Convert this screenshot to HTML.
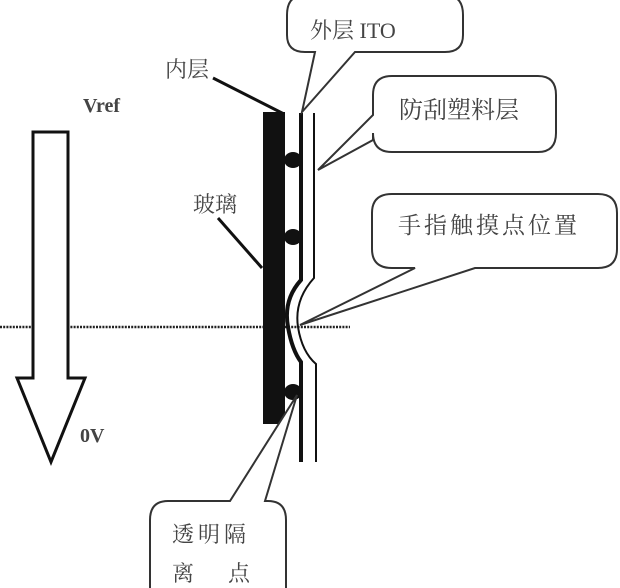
<!DOCTYPE html>
<html><head><meta charset="utf-8"><style>
html,body{margin:0;padding:0;background:#fff;width:620px;height:588px;overflow:hidden}
svg text{font-family:"Liberation Serif","Noto Serif CJK SC",serif;fill:#444}
</style></head><body>
<svg width="620" height="588" viewBox="0 0 620 588" xmlns="http://www.w3.org/2000/svg">
<line x1="0" y1="327" x2="350" y2="327" stroke="#222" stroke-width="2.5" stroke-dasharray="2,1.2"/>
<path d="M33,132 H68 V378 H85 L51,462 L17,378 H33 Z" fill="#fff" stroke="#111" stroke-width="3" stroke-linejoin="miter"/>
<text x="83" y="112" font-size="20" font-weight="bold">Vref</text>
<text x="80" y="442" font-size="20" font-weight="bold">0V</text>
<rect x="263" y="112" width="22" height="312" fill="#111"/>
<path d="M301,113 V280 Q283,300 288,327 Q292,350 301,362 V462" fill="none" stroke="#111" stroke-width="4"/>
<path d="M314,113 V278 Q294,300 298,327 Q302,352 316,364 V462" fill="none" stroke="#111" stroke-width="2"/>
<ellipse cx="293" cy="160" rx="9" ry="8" fill="#111"/>
<ellipse cx="293" cy="237" rx="9" ry="8" fill="#111"/>
<ellipse cx="293" cy="392" rx="9" ry="8" fill="#111"/>
<text x="165" y="77" font-size="22">内层</text>
<line x1="213" y1="78" x2="284" y2="114" stroke="#111" stroke-width="3"/>
<text x="193" y="212" font-size="22">玻璃</text>
<line x1="218" y1="218" x2="262" y2="268" stroke="#111" stroke-width="3"/>
<g fill="#fff" stroke="#333" stroke-width="2">
<path d="M305,-5 H445 Q463,-5 463,15 V35 Q463,52 445,52 H355 L302,112 L315,52 H305 Q287,52 287,35 V15 Q287,-5 305,-5 Z"/>
<path d="M392,76 H538 Q556,76 556,95 V133 Q556,152 538,152 H392 Q373,152 373,133 V140 L318,170 L373,115 V95 Q373,76 392,76 Z"/>
<path d="M392,194 H598 Q617,194 617,213 V249 Q617,268 598,268 H475 L300,325 L415,268 H392 Q372,268 372,249 V213 Q372,194 392,194 Z"/>
<path d="M168,501 H230 L297,395 L265,501 H268 Q286,501 286,520 V600 H150 V520 Q150,501 168,501 Z"/>
</g>
<text x="310" y="38" font-size="22">外层 ITO</text>
<text x="399" y="118" font-size="24">防刮塑料层</text>
<text x="398" y="233" font-size="23" letter-spacing="3">手指触摸点位置</text>
<text x="172" y="542" font-size="22" letter-spacing="4">透明隔</text>
<text x="172" y="581" font-size="22">离</text>
<text x="228" y="581" font-size="22">点</text>
</svg>
</body></html>
